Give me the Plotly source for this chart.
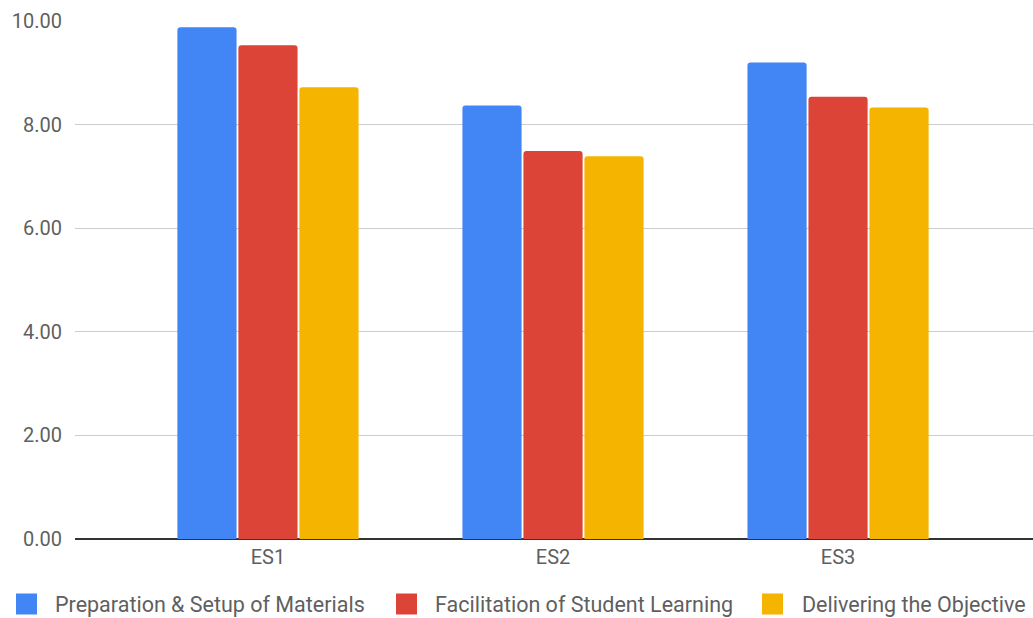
import plotly.graph_objects as go

categories = ["ES1", "ES2", "ES3"]
series_names = [
    "Preparation & Setup of Materials",
    "Facilitation of Student Learning",
    "Delivering the Objective",
]
preparation = [9.88, 8.37, 9.20]
facilitation = [9.53, 7.49, 8.54]
delivering = [8.72, 7.39, 8.33]
colors = ["#4285F4", "#DB4437", "#F4B400"]

W, H = 1033, 618
M_L, M_R, M_T, M_B = 75, 0, 21, 79
plot_w = W - M_L - M_R
plot_h = H - M_T - M_B

font_family = "Roboto, Arial, sans-serif"
text_grey = "#5f5f5f"

fig = go.Figure()
for name, vals, col in zip(series_names, [preparation, facilitation, delivering], colors):
    fig.add_trace(go.Bar(
        x=categories, y=vals, name=name, marker_color=col,
        marker_line_width=0, showlegend=False,
    ))

# custom legend row beneath the plot (large swatches)
legend_sq_x = [16, 396, 762]
legend_txt_x = [53, 433, 800]
legend_cy = 604
sq = 21


def px_x(p):
    return (p - M_L) / plot_w


def px_y(p):
    return (H - M_B - p) / plot_h


shapes = []
annotations = []
for name, col, sx, tx in zip(series_names, colors, legend_sq_x, legend_txt_x):
    shapes.append(dict(
        type="rect", xref="paper", yref="paper",
        x0=px_x(sx), x1=px_x(sx + sq),
        y0=px_y(legend_cy + sq / 2), y1=px_y(legend_cy - sq / 2),
        fillcolor=col, line=dict(width=0), layer="above",
    ))
    annotations.append(dict(
        xref="paper", yref="paper", x=px_x(tx), y=px_y(legend_cy),
        xanchor="left", yanchor="middle", showarrow=False,
        text=name, font=dict(family=font_family, size=21.5, color=text_grey),
    ))

fig.update_layout(
    width=W, height=H,
    margin=dict(l=M_L, r=M_R, t=M_T, b=M_B, pad=0),
    paper_bgcolor="white", plot_bgcolor="white",
    barmode="group", bargap=0.358, bargroupgap=0.03,
    barcornerradius=3,
    font=dict(family=font_family, size=20, color=text_grey),
    xaxis=dict(
        range=[-0.677, 2.684], showgrid=False, showline=False,
        zeroline=False, ticks="", tickfont=dict(size=20, color=text_grey),
        ticklabelstandoff=4, fixedrange=True,
    ),
    yaxis=dict(
        range=[0, 10], dtick=2, tickformat=".2f",
        showgrid=True, gridcolor="#cccccc", gridwidth=1,
        zeroline=True, zerolinecolor="#333333", zerolinewidth=1.5,
        showline=False, ticks="", tickfont=dict(size=20, color=text_grey),
        ticklabelstandoff=12, fixedrange=True,
    ),
    shapes=shapes, annotations=annotations,
    showlegend=False,
)

fig.write_html("out.html")
